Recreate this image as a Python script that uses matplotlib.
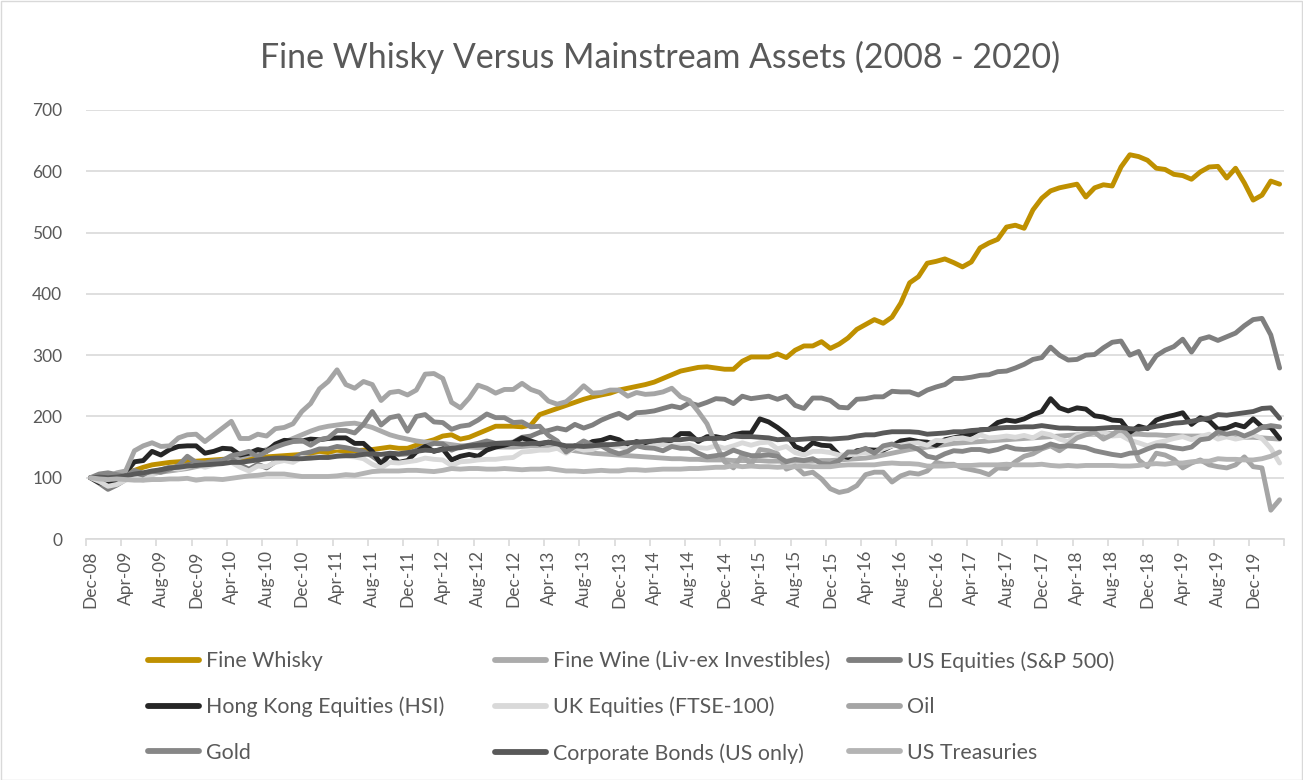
import numpy as np
import matplotlib
matplotlib.use("Agg")
import matplotlib.pyplot as plt
from matplotlib.patches import Rectangle

plt.rcParams['font.family'] = ['Lato', 'DejaVu Sans']

# ---------------- data (monthly, Dec-08 .. Mar-20) ----------------
months = ["Jan", "Feb", "Mar", "Apr", "May", "Jun", "Jul", "Aug", "Sep", "Oct", "Nov", "Dec"]
dates = ["Dec-08"] + [f"{m}-{y:02d}" for y in range(9, 20) for m in months] + ["Jan-20", "Feb-20", "Mar-20"]

fine_whisky = [100,
    101, 103, 105, 108, 112, 117, 121, 123, 125, 126, 127, 127,
    128, 129, 130, 131, 131, 132, 133, 134, 135, 136, 137, 138,
    139, 140, 141, 142, 143, 144, 145, 146, 148, 150, 148, 148,
    153, 158, 162, 168, 170, 163, 166, 172, 178, 184, 184, 184,
    183, 186, 203, 208, 213, 218, 223, 228, 232, 235, 238, 243,
    246, 249, 252, 256, 262, 268, 274, 277, 280, 281, 279, 277,
    277, 290, 297, 297, 297, 302, 296, 308, 315, 315, 322, 311,
    318, 328, 342, 350, 358, 352, 362, 385, 418, 428, 450, 453,
    457, 451, 444, 452, 475, 483, 489, 509, 512, 507, 537, 556,
    568, 573, 576, 579, 558, 573, 578, 576, 607, 627, 624, 618,
    605, 603, 595, 593, 587, 599, 607, 608, 589, 605, 581, 553,
    561, 584, 579]

fine_wine = [100,
    99, 98, 99, 101, 103, 105, 107, 109, 111, 113, 115, 118,
    121, 124, 127, 130, 133, 137, 141, 146, 152, 158, 164, 170,
    176, 181, 184, 186, 188, 189, 186, 182, 176, 170, 166, 163,
    160, 158, 157, 156, 154, 152, 150, 149, 149, 150, 150, 150,
    151, 152, 152, 150, 148, 146, 144, 142, 140, 139, 138, 137,
    136, 135, 134, 133, 132, 131, 131, 130, 130, 129, 129, 129,
    128, 128, 128, 128, 127, 127, 127, 127, 127, 127, 128, 128,
    129, 130, 131, 132, 134, 137, 140, 143, 146, 148, 150, 152,
    154, 156, 157, 158, 159, 160, 161, 162, 163, 164, 165, 166,
    167, 168, 169, 170, 171, 171, 172, 172, 172, 171, 171, 170,
    170, 169, 169, 168, 168, 168, 167, 167, 167, 166, 166, 166,
    165, 164, 163]

us_equities = [100,
    91, 81, 88, 97, 102, 102, 109, 113, 117, 115, 121, 123,
    119, 122, 129, 131, 121, 114, 122, 116, 126, 131, 131, 139,
    142, 147, 147, 151, 149, 146, 143, 135, 125, 139, 138, 139,
    145, 151, 156, 155, 145, 151, 153, 156, 160, 156, 157, 158,
    166, 168, 174, 177, 181, 178, 187, 181, 186, 194, 200, 205,
    197, 206, 207, 209, 213, 217, 214, 222, 218, 223, 229, 228,
    221, 233, 229, 231, 233, 228, 233, 218, 213, 230, 230, 226,
    215, 214, 228, 229, 232, 232, 241, 240, 240, 235, 243, 248,
    252, 262, 262, 264, 267, 268, 273, 274, 279, 285, 293, 296,
    313, 300, 292, 293, 300, 301, 312, 321, 323, 300, 306, 278,
    299, 308, 314, 326, 305, 326, 330, 324, 330, 336, 348, 358,
    360, 333, 279]

hk_equities = [100,
    92, 89, 94, 108, 126, 128, 143, 137, 146, 151, 152, 152,
    140, 143, 148, 147, 137, 140, 146, 143, 155, 161, 160, 160,
    163, 162, 164, 165, 165, 156, 156, 143, 122, 138, 125, 128,
    142, 151, 143, 147, 129, 135, 138, 135, 145, 150, 153, 157,
    165, 160, 155, 158, 156, 145, 152, 151, 159, 161, 166, 162,
    153, 159, 154, 154, 160, 161, 172, 172, 159, 167, 167, 164,
    170, 173, 173, 196, 191, 182, 171, 151, 145, 157, 153, 152,
    137, 133, 144, 146, 145, 145, 152, 160, 162, 159, 158, 153,
    162, 165, 168, 171, 178, 179, 190, 194, 192, 196, 203, 208,
    229, 214, 209, 214, 212, 201, 199, 194, 193, 174, 184, 180,
    194, 199, 202, 206, 187, 198, 193, 179, 181, 187, 183, 196,
    183, 182, 164]

uk_equities = [100,
    94, 86, 89, 96, 100, 96, 104, 111, 116, 114, 117, 122,
    117, 121, 128, 125, 117, 111, 119, 118, 125, 128, 125, 133,
    132, 135, 133, 137, 135, 134, 131, 122, 116, 125, 124, 126,
    128, 132, 130, 129, 120, 126, 127, 129, 130, 130, 132, 133,
    142, 143, 145, 145, 148, 140, 149, 145, 146, 152, 150, 152,
    147, 154, 149, 153, 154, 152, 152, 154, 149, 148, 152, 148,
    152, 157, 153, 157, 158, 147, 151, 141, 137, 143, 143, 141,
    137, 137, 139, 141, 141, 147, 152, 153, 156, 157, 153, 161,
    160, 164, 165, 162, 170, 165, 166, 168, 166, 169, 165, 173,
    170, 163, 159, 169, 173, 172, 175, 168, 169, 161, 157, 152,
    157, 160, 164, 167, 162, 167, 171, 163, 167, 163, 166, 170,
    164, 148, 124]

oil = [100,
    101, 101, 108, 111, 144, 152, 157, 151, 152, 165, 170, 171,
    159, 170, 181, 192, 164, 164, 171, 168, 180, 182, 188, 208,
    221, 245, 257, 276, 252, 246, 257, 252, 226, 239, 241, 235,
    243, 269, 270, 262, 223, 214, 230, 251, 246, 238, 244, 244,
    254, 244, 239, 225, 220, 224, 236, 250, 238, 239, 243, 243,
    233, 239, 236, 237, 240, 246, 232, 226, 208, 188, 154, 126,
    116, 137, 121, 146, 144, 139, 114, 119, 106, 109, 98, 82,
    76, 79, 87, 105, 109, 109, 93, 103, 108, 106, 111, 125,
    122, 122, 116, 113, 110, 105, 116, 115, 126, 135, 139, 147,
    152, 144, 154, 165, 170, 174, 163, 170, 181, 166, 129, 118,
    140, 137, 130, 116, 124, 129, 121, 118, 116, 121, 134, 118,
    116, 47, 64]

gold = [100,
    106, 108, 105, 102, 112, 107, 110, 109, 114, 120, 135, 125,
    124, 127, 128, 136, 139, 143, 134, 143, 150, 155, 159, 161,
    153, 162, 165, 177, 177, 173, 187, 208, 186, 198, 201, 176,
    200, 203, 191, 190, 179, 184, 186, 194, 204, 198, 198, 190,
    191, 183, 184, 169, 160, 142, 151, 160, 153, 152, 144, 139,
    143, 152, 149, 148, 144, 151, 148, 148, 140, 134, 136, 138,
    145, 140, 136, 136, 137, 135, 126, 130, 128, 131, 123, 122,
    128, 142, 142, 148, 140, 152, 155, 150, 152, 146, 135, 132,
    139, 144, 143, 146, 146, 143, 146, 151, 147, 146, 147, 149,
    155, 151, 152, 151, 149, 144, 141, 138, 136, 140, 141, 147,
    152, 152, 149, 147, 150, 162, 164, 175, 171, 174, 168, 174,
    182, 185, 183]

corporate_bonds = [100,
    101, 100, 101, 103, 106, 108, 111, 113, 116, 117, 119, 120,
    121, 122, 123, 125, 125, 127, 129, 131, 132, 132, 131, 131,
    132, 133, 133, 135, 136, 136, 138, 139, 138, 140, 139, 141,
    143, 145, 144, 146, 148, 149, 152, 153, 154, 156, 156, 156,
    155, 156, 156, 158, 155, 152, 152, 151, 152, 154, 154, 155,
    157, 158, 159, 160, 162, 162, 162, 164, 162, 164, 164, 165,
    168, 167, 167, 166, 165, 162, 163, 162, 163, 164, 164, 163,
    164, 165, 168, 170, 170, 173, 175, 175, 175, 174, 171, 172,
    173, 175, 175, 177, 178, 179, 181, 182, 182, 183, 183, 185,
    183, 181, 181, 180, 180, 180, 181, 182, 182, 180, 179, 181,
    184, 186, 189, 190, 192, 195, 197, 203, 202, 204, 206, 208,
    213, 214, 197]

us_treasuries = [100,
    98, 97, 98, 97, 96, 96, 97, 97, 98, 98, 99, 96,
    98, 98, 97, 99, 101, 103, 104, 106, 106, 106, 104, 102,
    102, 102, 102, 103, 105, 104, 107, 110, 111, 111, 111, 112,
    112, 111, 110, 112, 115, 114, 115, 115, 114, 114, 115, 114,
    113, 114, 114, 115, 113, 111, 111, 110, 111, 112, 111, 111,
    113, 113, 112, 113, 114, 114, 114, 115, 115, 116, 117, 117,
    120, 118, 119, 118, 118, 117, 118, 118, 119, 118, 118, 118,
    120, 121, 121, 121, 121, 123, 124, 123, 123, 122, 119, 119,
    119, 120, 120, 120, 121, 121, 121, 122, 121, 121, 121, 122,
    120, 119, 120, 119, 120, 120, 120, 120, 119, 119, 120, 122,
    123, 122, 124, 124, 126, 127, 127, 131, 130, 130, 129, 129,
    131, 135, 142]

series_names = ["Fine Whisky", "Fine Wine (Liv-ex Investibles)", "US Equities (S&P 500)",
                "Hong Kong Equities (HSI)", "UK Equities (FTSE-100)", "Oil",
                "Gold", "Corporate Bonds (US only)", "US Treasuries"]
series_values = [fine_whisky, fine_wine, us_equities, hk_equities, uk_equities, oil,
                 gold, corporate_bonds, us_treasuries]
series_colors = ["#BF9000", "#ABABAB", "#7F7F7F", "#262626", "#D9D9D9", "#A5A5A5",
                 "#878787", "#595959", "#B4B4B4"]

y_ticks = [0, 100, 200, 300, 400, 500, 600, 700]
title = "Fine Whisky Versus Mainstream Assets (2008 - 2020)"

# ---------------- figure ----------------
W, H = 1303, 780
fig = plt.figure(figsize=(W / 100, H / 100), dpi=100)
fig.patch.set_facecolor("white")
fig.add_artist(Rectangle((0.5 / W, 0.5 / H), 1 - 1.5 / W, 1 - 1.5 / H, transform=fig.transFigure,
                         fill=False, edgecolor="#D9D9D9", linewidth=1.0))

ax = fig.add_axes([86 / W, 1 - 539 / H, (1284 - 86) / W, (539 - 110) / H])
n = len(dates)
x = np.arange(n) + 0.5

handles = []
for name, vals, col in zip(series_names, series_values, series_colors):
    h, = ax.plot(x, vals, color=col, linewidth=3.5, solid_joinstyle="round",
                 solid_capstyle="round", label=name)
    handles.append(h)

ax.set_xlim(0, n)
ax.set_ylim(0, 700)
ax.set_yticks(y_ticks)
ax.set_yticklabels([str(v) for v in y_ticks])
ax.grid(axis="y", color="#D9D9D9", linewidth=1.2)
ax.set_axisbelow(True)

lab_idx = list(range(0, n, 4))
ax.set_xticks([i + 0.5 for i in lab_idx])
ax.set_xticklabels([dates[i] for i in lab_idx], rotation=90)
ax.set_xticks(list(range(0, n + 1, 4)), minor=True)
ax.tick_params(axis="x", which="major", length=0, pad=8, labelsize=12.5, labelcolor="#595959")
ax.tick_params(axis="x", which="minor", length=5, width=1.2, color="#D9D9D9")
ax.tick_params(axis="y", length=0, pad=17, labelsize=12.5, labelcolor="#595959")

for s in ["left", "right", "top"]:
    ax.spines[s].set_visible(False)
ax.spines["bottom"].set_color("#D9D9D9")
ax.spines["bottom"].set_linewidth(1.2)

fig.text(660 / W, 1 - 57 / H, title, ha="center", va="center", fontsize=24.4, color="#595959")

# legend in three columns (row-major order as in the reference)
col_x = [148, 495, 849]
for c in range(3):
    hs = [handles[r * 3 + c] for r in range(3)]
    lg = fig.legend(hs, [h.get_label() for h in hs], loc="upper left",
                    bbox_to_anchor=(col_x[c] / W, 1 - 651 / H), frameon=False,
                    borderpad=0, borderaxespad=0, handlelength=2.4, handletextpad=0.3,
                    labelspacing=1.2, fontsize=15.4)
    for t in lg.get_texts():
        t.set_color("#595959")
    for lh in lg.get_lines():
        lh.set_linewidth(4.2)
        lh.set_solid_capstyle("round")

fig.savefig("out.png", dpi=100)
